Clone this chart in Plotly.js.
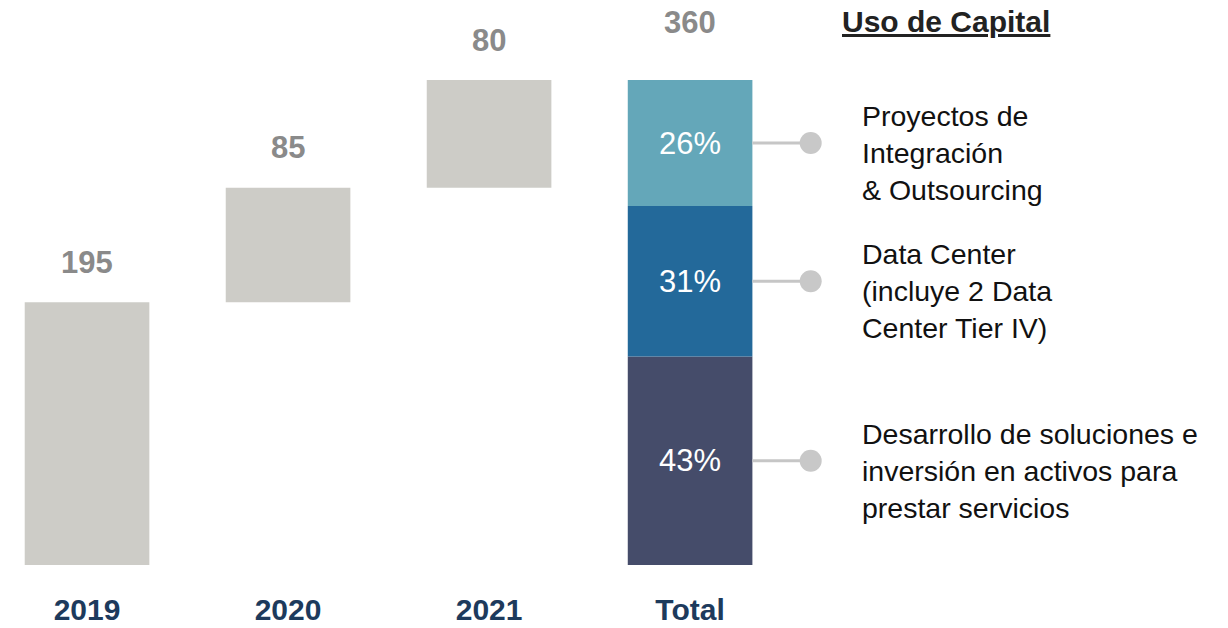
<!DOCTYPE html>
<html>
<head>
<meta charset="utf-8">
<script src="https://cdn.plot.ly/plotly-3.0.1.min.js"></script>
<style>html,body{margin:0;padding:0;background:#fff;}#chart{width:1228px;height:628px;}</style>
</head>
<body>
<div id="chart"></div>
<script>
// ---- data ----
const categories = ['2019', '2020', '2021', 'Total'];
const yearValues = [195, 85, 80];
const totalValue = 360;
const shareValues = [43, 31, 26];
const shareLabels = ['43%', '31%', '26%'];
const shareNames = [
  'Desarrollo de soluciones e<br>inversión en activos para<br>prestar servicios',
  'Data Center<br>(incluye 2 Data<br>Center Tier IV)',
  'Proyectos de<br>Integración<br>& Outsourcing'
];
const legendTitle = 'Uso de Capital';

// ---- styles ----
const grayColor = '#cdccc7';
const shareColors = ['#454c6a', '#23699a', '#64a7b9'];
const barWidth = 0.62;
const FONT = 'Liberation Sans, Arial, sans-serif';

const idx = categories.map((c, i) => i);
const traces = [];
const annotations = [];

// yearly increments (floating waterfall bars)
let running = 0;
const bases = [];
yearValues.forEach(v => { bases.push(running); running += v; });
traces.push({
  type: 'bar',
  x: idx.slice(0, 3),
  y: yearValues,
  base: bases,
  width: barWidth,
  marker: {color: grayColor, line: {width: 0}},
  hoverinfo: 'skip'
});
yearValues.forEach((v, i) => {
  annotations.push({
    x: idx[i], y: bases[i] + v, xref: 'x', yref: 'y',
    text: '<b>' + v + '</b>', showarrow: false, yshift: 40, yanchor: 'middle', xanchor: 'center',
    font: {family: FONT, size: 31, color: '#8a8a8a'}
  });
});

// total split into shares
const totalIdx = categories.indexOf('Total');
let acc = 0;
const connectorStart = totalIdx + barWidth / 2;
const dotX = totalIdx + 0.6;
const textX = totalIdx + 0.846;
shareValues.forEach((s, i) => {
  const h = totalValue * s / 100;
  traces.push({
    type: 'bar', x: [totalIdx], y: [h], base: [acc], width: barWidth,
    marker: {color: shareColors[i], line: {width: 0}}, hoverinfo: 'skip'
  });
  const mid = acc + h / 2;
  annotations.push({
    x: totalIdx, y: mid, xref: 'x', yref: 'y', text: shareLabels[i], showarrow: false,
    xanchor: 'center', yanchor: 'middle',
    font: {family: FONT, size: 31, color: '#ffffff'}
  });
  traces.push({
    type: 'scatter', mode: 'lines', x: [connectorStart, dotX], y: [mid, mid],
    line: {color: '#c6c6c6', width: 3}, hoverinfo: 'skip'
  });
  traces.push({
    type: 'scatter', mode: 'markers', x: [dotX], y: [mid],
    marker: {color: '#c8c8c8', size: 22}, hoverinfo: 'skip'
  });
  annotations.push({
    x: textX, y: mid, xref: 'x', yref: 'y', text: shareNames[i], showarrow: false,
    xanchor: 'left', yanchor: 'middle', align: 'left', yshift: -10,
    font: {family: FONT, size: 28.5, color: '#111111'}
  });
  acc += h;
});
annotations.push({
  x: totalIdx, y: totalValue, xref: 'x', yref: 'y', text: '<b>' + totalValue + '</b>',
  showarrow: false, yshift: 58, yanchor: 'middle', xanchor: 'center',
  font: {family: FONT, size: 31, color: '#8a8a8a'}
});
annotations.push({
  x: 946 / 1228, y: 1 - 22 / 565, xref: 'paper', yref: 'paper',
  xanchor: 'center', yanchor: 'middle',
  text: '<b><span style="text-decoration:underline">' + legendTitle + '</span></b>',
  showarrow: false, font: {family: FONT, size: 30, color: '#222222'}
});

const layout = {
  width: 1228, height: 628,
  margin: {l: 0, r: 0, t: 0, b: 63},
  paper_bgcolor: '#ffffff', plot_bgcolor: '#ffffff',
  showlegend: false,
  barmode: 'overlay',
  xaxis: {
    range: [-0.433, 5.676], showgrid: false, zeroline: false, showline: false,
    tickmode: 'array', tickvals: idx, ticktext: categories,
    ticks: '', ticklabelstandoff: 24,
    tickfont: {family: FONT, size: 30, color: '#1d3a5c', weight: 'bold'},
    fixedrange: true
  },
  yaxis: {
    range: [0, 419.4], visible: false, showgrid: false, zeroline: false, fixedrange: true
  },
  annotations: annotations
};

Plotly.newPlot('chart', traces, layout, {displayModeBar: false, staticPlot: true});
</script>
</body>
</html>
